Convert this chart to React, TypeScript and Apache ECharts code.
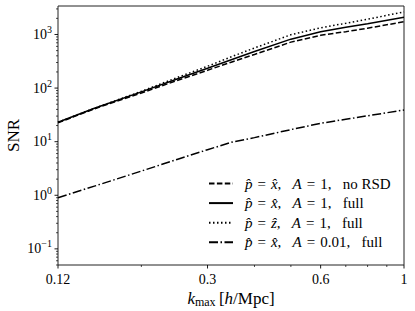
import React, { useEffect, useRef } from 'react';
import * as echarts from 'echarts';

// ---- data ----
const kValues = [0.12, 0.15, 0.2, 0.25, 0.3, 0.35, 0.4, 0.5, 0.6, 0.7, 0.8, 1.0];
const snrXNoRSD = [22.5, 41, 81, 140, 215, 311, 424, 720, 965, 1130, 1310, 1730];
const snrXFull = [23, 42, 85, 149, 234, 346, 482, 818, 1120, 1365, 1590, 2090];
const snrZFull = [23, 42, 87, 159, 255, 393, 560, 990, 1330, 1620, 1925, 2640];
const snrXFullLowA = [0.9, 1.48, 2.83, 4.7, 7.08, 9.9, 11.9, 16.8, 22, 26.2, 30.4, 39];

const seriesNames = [
  'p̂ = x̂, A = 1, no RSD',
  'p̂ = x̂, A = 1, full',
  'p̂ = ẑ, A = 1, full',
  'p̂ = x̂, A = 0.01, full',
];
const SP = '\u2004';
const GAP = '   ';
const legendRich = [
  `{i|p̂}${SP}=${SP}{i|x̂},${GAP}{i|A}${SP}=${SP}1,${GAP}no RSD`,
  `{i|p̂}${SP}=${SP}{i|x̂},${GAP}{i|A}${SP}=${SP}1,${GAP}full`,
  `{i|p̂}${SP}=${SP}{i|ẑ},${GAP}{i|A}${SP}=${SP}1,${GAP}full`,
  `{i|p̂}${SP}=${SP}{i|x̂},${GAP}{i|A}${SP}=${SP}0.01,${GAP}full`,
];

// axis ranges and ticks
const X_MIN = 0.12;
const X_MAX = 1;
const Y_MIN = 0.05;
const Y_MAX = 3400;
const xMajorTicks = [0.12, 0.3, 0.6, 1];
const xTickLabels = ['0.12', '0.3', '0.6', '1'];
const xMinorTicks = [0.2, 0.4, 0.5, 0.7, 0.8, 0.9];
const yMajorTicks = [0.1, 1, 10, 100, 1000];
const yTickExponents = ['−1', '0', '1', '2', '3'];
const yMinorTicks = [
  0.05, 0.06, 0.07, 0.08, 0.09,
  0.2, 0.3, 0.4, 0.5, 0.6, 0.7, 0.8, 0.9,
  2, 3, 4, 5, 6, 7, 8, 9,
  20, 30, 40, 50, 60, 70, 80, 90,
  200, 300, 400, 500, 600, 700, 800, 900,
  2000, 3000,
];

const FONT = '"Liberation Serif", "DejaVu Serif", serif';
const INK = '#000';

export default function App() {
  const ref = useRef<HTMLDivElement>(null);

  useEffect(() => {
    if (!ref.current) return;
    const chart = echarts.init(ref.current, undefined, { renderer: 'svg' });

    const lineSeries = (name: string, data: number[], type: any, width = 1.5) => ({
      name,
      type: 'line',
      data: kValues.map((k, i) => [k, data[i]]),
      symbol: 'none',
      showSymbol: false,
      lineStyle: { color: INK, width, type },
      itemStyle: { color: INK },
      emphasis: { disabled: true },
      z: 3,
    });

    const option: any = {
      animation: false,
      backgroundColor: '#fff',
      grid: {
        left: 58,
        right: 11,
        top: 6,
        bottom: 46,
        show: true,
        borderColor: '#222',
        borderWidth: 1,
        backgroundColor: 'transparent',
      },
      xAxis: {
        type: 'log',
        logBase: 10,
        min: X_MIN,
        max: X_MAX,
        axisLine: { show: false },
        axisTick: { show: false },
        axisLabel: { show: false },
        splitLine: { show: false },
        minorTick: { show: false },
      },
      yAxis: {
        type: 'log',
        logBase: 10,
        min: Y_MIN,
        max: Y_MAX,
        axisLine: { show: false },
        axisTick: { show: false },
        axisLabel: { show: false },
        splitLine: { show: false },
        minorTick: { show: false },
      },
      legend: {
        orient: 'vertical',
        left: 203,
        top: 171,
        itemWidth: 24,
        itemHeight: 12,
        itemGap: 4.6,
        data: seriesNames,
        selectedMode: false,
        itemStyle: { opacity: 0 },
        lineStyle: { opacity: 1 },
        formatter: (name: string) => legendRich[seriesNames.indexOf(name)],
        textStyle: {
          fontFamily: FONT,
          fontSize: 15,
          color: INK,
          lineHeight: 14,
          padding: [0, 0, 0, 7],
          rich: {
            i: { fontFamily: FONT, fontSize: 15, fontStyle: 'italic', color: INK, lineHeight: 14 },
          },
        },
      },
      graphic: [
        {
          type: 'text',
          x: 13,
          y: 135.5,
          rotation: Math.PI / 2,
          style: {
            text: 'SNR',
            fontFamily: FONT,
            fontSize: 17,
            fill: INK,
            align: 'center',
            verticalAlign: 'middle',
          },
        },
        {
          type: 'text',
          x: 231,
          y: 298,
          style: {
            text: '{k|k}{s|max} {n|[}{k|h}{n|/Mpc]}',
            align: 'center',
            verticalAlign: 'middle',
            fill: INK,
            rich: {
              k: { fontFamily: FONT, fontSize: 17, fontStyle: 'italic', lineHeight: 20, fill: INK },
              n: { fontFamily: FONT, fontSize: 17, lineHeight: 20, fill: INK },
              s: { fontFamily: FONT, fontSize: 12, lineHeight: 12, verticalAlign: 'bottom', fill: INK },
            },
          },
        },
      ],
      series: [
        lineSeries(seriesNames[0], snrXNoRSD, [5.5, 2.4]),
        lineSeries(seriesNames[1], snrXFull, 'solid'),
        lineSeries(seriesNames[2], snrZFull, [1.5, 2.5]),
        lineSeries(seriesNames[3], snrXFullLowA, [9, 2.5, 1.5, 2.5]),
        // x major ticks + labels
        {
          type: 'custom',
          silent: true,
          data: xMajorTicks.map((v) => [v, Y_MIN]),
          renderItem: (params: any, api: any) => {
            const cs = params.coordSys;
            const x = api.coord([api.value(0), Y_MIN])[0];
            const y0 = cs.y + cs.height;
            return {
              type: 'group',
              children: [
                { type: 'line', shape: { x1: x, y1: y0, x2: x, y2: y0 + 3.5 }, style: { stroke: INK, lineWidth: 0.9 } },
                {
                  type: 'text',
                  style: {
                    text: xTickLabels[params.dataIndex],
                    x,
                    y: y0 + 7,
                    align: 'center',
                    verticalAlign: 'top',
                    fontFamily: FONT,
                    fontSize: 14,
                    fill: INK,
                  },
                },
              ],
            };
          },
        },
        // x minor ticks
        {
          type: 'custom',
          silent: true,
          data: xMinorTicks.map((v) => [v, Y_MIN]),
          renderItem: (params: any, api: any) => {
            const cs = params.coordSys;
            const x = api.coord([api.value(0), Y_MIN])[0];
            const y0 = cs.y + cs.height;
            return { type: 'line', shape: { x1: x, y1: y0, x2: x, y2: y0 + 2 }, style: { stroke: INK, lineWidth: 0.7 } };
          },
        },
        // y major ticks + labels
        {
          type: 'custom',
          silent: true,
          data: yMajorTicks.map((v) => [X_MIN, v]),
          renderItem: (params: any, api: any) => {
            const cs = params.coordSys;
            const y = api.coord([X_MIN, api.value(1)])[1];
            const x0 = cs.x;
            return {
              type: 'group',
              children: [
                { type: 'line', shape: { x1: x0, y1: y, x2: x0 - 3.5, y2: y }, style: { stroke: INK, lineWidth: 0.9 } },
                {
                  type: 'text',
                  style: {
                    text: '{b|10}{e|' + yTickExponents[params.dataIndex] + '}',
                    x: x0 - 6,
                    y,
                    align: 'right',
                    verticalAlign: 'middle',
                    fill: INK,
                    rich: {
                      b: { fontFamily: FONT, fontSize: 14, lineHeight: 20, fill: INK },
                      e: { fontFamily: FONT, fontSize: 10, lineHeight: 10, verticalAlign: 'top', fill: INK },
                    },
                  },
                },
              ],
            };
          },
        },
        // y minor ticks
        {
          type: 'custom',
          silent: true,
          data: yMinorTicks.map((v) => [X_MIN, v]),
          renderItem: (params: any, api: any) => {
            const cs = params.coordSys;
            const y = api.coord([X_MIN, api.value(1)])[1];
            const x0 = cs.x;
            return { type: 'line', shape: { x1: x0, y1: y, x2: x0 - 2, y2: y }, style: { stroke: INK, lineWidth: 0.7 } };
          },
        },
      ],
    };

    chart.setOption(option);
    return () => chart.dispose();
  }, []);

  return (
    <div
      ref={ref}
      style={{ position: 'absolute', left: 0, top: 0, width: 415, height: 311, background: '#fff' }}
    />
  );
}
